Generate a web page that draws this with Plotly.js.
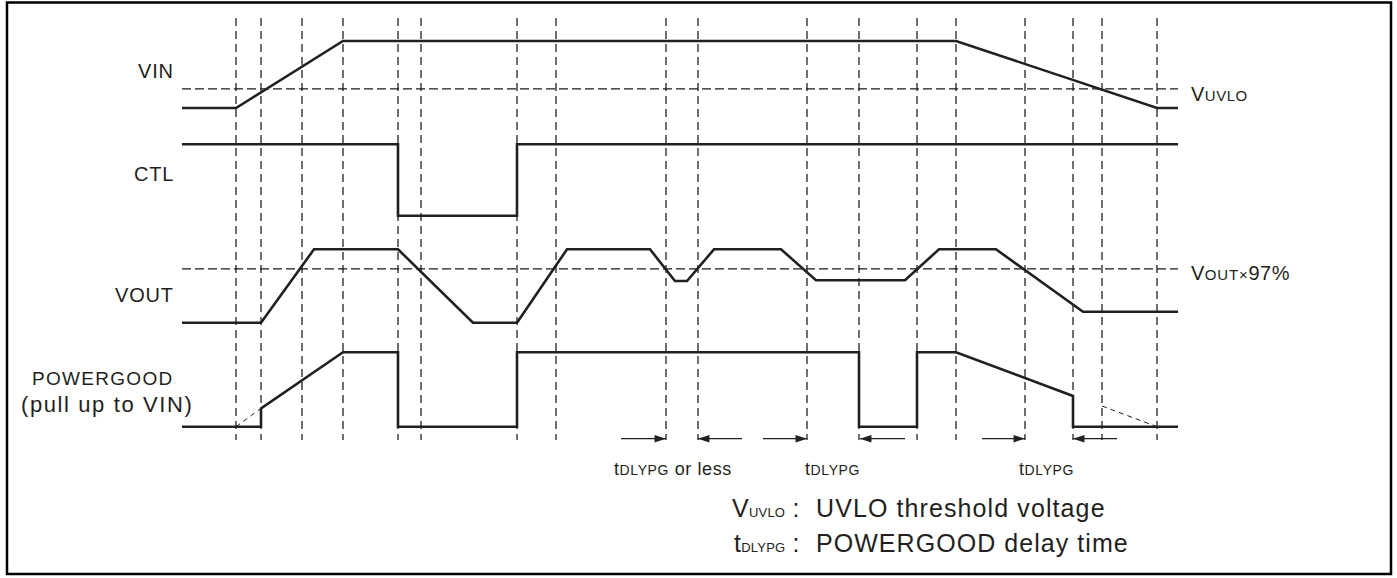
<!DOCTYPE html>
<html>
<head>
<meta charset="utf-8">
<script src="https://cdn.plot.ly/plotly-3.0.1.min.js"></script>
<style>html,body{margin:0;padding:0;background:#fff}#chart{width:1397px;height:578px}</style>
</head>
<body>
<div id="chart"></div>
<script>
// ---------- data ----------
// time axis (event markers = dashed vertical lines)
const gridT = [236, 261, 302, 343, 398, 421, 517, 556, 666, 698, 807, 859, 917, 956, 1025, 1073, 1102, 1157];
const traceStart = 182, traceEnd = 1178;

// signal levels: 0 = low, 1 = high (per signal)
const vinT  = [182, 236, 343, 956, 1157, 1178];
const vinV  = [0, 0, 1, 1, 0, 0];
const ctlT  = [182, 398, 398, 517, 517, 1178];
const ctlV  = [1, 1, 0, 0, 1, 1];
const voutT = [182, 261, 314, 398, 473, 517, 567, 650, 675, 687, 714, 781, 816, 905, 939, 996, 1083, 1178];
const voutV = [0, 0, 1, 1, 0, 0, 1, 1, 0.568, 0.568, 1, 1, 0.578, 0.578, 1, 1, 0.15, 0.15];
const pgT   = [182, 261, 261, 343, 398, 398, 517, 517, 859, 859, 917, 917, 956, 1073, 1073, 1178];
const pgV   = [0, 0, 0.247, 1, 1, 0, 0, 1, 1, 0, 0, 1, 1, 0.413, 0, 0];
const pgExtT = [236, 261, null, 1102, 1157];
const pgExtV = [0, 0.247, null, 0.278, 0];
const uvloLevel = 0.284;    // VIN scale
const vout97Level = 0.732;  // VOUT scale

// delay arrows (start -> tip) on the time axis
const arrowFrom = [621, 742, 763, 905, 982, 1117];
const arrowTo   = [666, 698, 807, 860, 1025, 1073];

// text
const signalNames = ['VIN', 'CTL', 'VOUT', 'POWERGOOD'];
const pullUpText = '(pull up to VIN)';
const delayLabels = [['t', 'DLYPG', ' or less'], ['t', 'DLYPG', ''], ['t', 'DLYPG', '']];
const legendKeys = [['V', 'UVLO'], ['t', 'DLYPG']];
const legendDescs = ['UVLO threshold voltage', 'POWERGOOD delay time'];

// ---------- layout constants (pixels) ----------
const W = 1397, H = 578;
const FONT = 'Liberation Sans, Arial, Helvetica, sans-serif';
const INK = '#231f20';
const lanes = { vin: [108, 41], ctl: [215.7, 144.3], vout: [322.7, 249.3], pg: [426.7, 352.3] };
function laneRange(l) { const yL = l[0], yH = l[1]; return [(yL - H) / (yL - yH), yL / (yL - yH)]; }

const gridTop = 18, gridBottom = 440, arrowY = 438.7;

// ---------- traces ----------
const gx = [], gy = [];
gridT.forEach(t => { gx.push(t, t, null); gy.push(gridTop, gridBottom, null); });

const sigLine = { color: INK, width: 2.6 };
const dashLine = { color: '#1a1a1a', width: 1.25, dash: '8px,5px' };
const thrLine = { color: '#1a1a1a', width: 1.25, dash: '9px,4px' };

const ax = [], ay = [];
arrowFrom.forEach((f, i) => { ax.push(f, arrowTo[i], null); ay.push(arrowY, arrowY, null); });

const traces = [
  { x: gx, y: gy, mode: 'lines', line: dashLine, yaxis: 'y', hoverinfo: 'skip' },
  { x: [traceStart, traceEnd], y: [uvloLevel, uvloLevel], mode: 'lines', line: thrLine, yaxis: 'y2' },
  { x: [traceStart, traceEnd], y: [vout97Level, vout97Level], mode: 'lines', line: thrLine, yaxis: 'y4' },
  { x: vinT, y: vinV, mode: 'lines', line: sigLine, yaxis: 'y2' },
  { x: ctlT, y: ctlV, mode: 'lines', line: sigLine, yaxis: 'y3' },
  { x: voutT, y: voutV, mode: 'lines', line: sigLine, yaxis: 'y4' },
  { x: pgT, y: pgV, mode: 'lines', line: sigLine, yaxis: 'y5' },
  { x: pgExtT, y: pgExtV, mode: 'lines', line: { color: INK, width: 1, dash: '5px,4px' }, yaxis: 'y5' },
  { x: ax, y: ay, mode: 'lines', line: { color: INK, width: 1.2 }, yaxis: 'y' },
  { x: arrowTo, y: arrowTo.map(() => arrowY), mode: 'markers', yaxis: 'y',
    marker: { symbol: 'arrow', size: 12, color: INK, line: { width: 0 },
              angle: arrowTo.map((t, i) => t > arrowFrom[i] ? 90 : -90) } }
];

// ---------- annotations ----------
function sp(txt, size, ls) { return '<span style="font-size:' + size + 'px;letter-spacing:' + ls + 'px">' + txt + '</span>'; }
function ann(x, y, text, anchor, size) {
  return { x: x, y: y, xref: 'x', yref: 'y', text: text, showarrow: false, xanchor: anchor, yanchor: 'middle',
           borderpad: 0, font: { family: FONT, size: size, color: INK } };
}
const annotations = [
  ann(175, 70.5, sp(signalNames[0], 20, 0.8), 'right', 20),
  ann(175, 174, sp(signalNames[1], 20, 0.8), 'right', 20),
  ann(175, 294.5, sp(signalNames[2], 20, 0.8), 'right', 20),
  ann(103, 378.5, sp(signalNames[3], 19, 1.3), 'center', 19),
  ann(106.5, 404, sp(pullUpText, 22, 1.6), 'center', 22),
  ann(1190, 93.5, sp('V', 20, 0.5) + sp('UVLO', 15, 0.5), 'left', 20),
  ann(1190, 272.5, sp('V', 20, 0.5) + sp('OUT×', 15, 0.8) + sp('97%', 20, 0.5), 'left', 20),
  ann(613, 468.5, sp(delayLabels[0][0], 18, 0.6) + sp(delayLabels[0][1], 14, 0.6) + sp(delayLabels[0][2], 18, 0.6), 'left', 18),
  ann(804, 468.5, sp(delayLabels[1][0], 18, 0.6) + sp(delayLabels[1][1], 14, 0.6), 'left', 18),
  ann(1018, 468.5, sp(delayLabels[2][0], 18, 0.6) + sp(delayLabels[2][1], 14, 0.6), 'left', 18),
  ann(801, 508, sp(legendKeys[0][0], 25, 0.3) + sp(legendKeys[0][1], 13, 0.2) + sp(' :', 25, 0.3), 'right', 25),
  ann(815, 508, sp(legendDescs[0], 25, 1.1), 'left', 25),
  ann(801, 542.5, sp(legendKeys[1][0], 25, 0.3) + sp(legendKeys[1][1], 13, 0.2) + sp(' :', 25, 0.3), 'right', 25),
  ann(815, 542.5, sp(legendDescs[1], 25, 1.05), 'left', 25)
];

const hidden = { visible: false, fixedrange: true };
const layout = {
  width: W, height: H, margin: { l: 0, r: 0, t: 0, b: 0, pad: 0 },
  paper_bgcolor: '#ffffff', plot_bgcolor: '#ffffff', showlegend: false,
  xaxis: Object.assign({ range: [0, W] }, hidden),
  yaxis: Object.assign({ range: [H, 0] }, hidden),
  yaxis2: Object.assign({ range: laneRange(lanes.vin), overlaying: 'y', anchor: 'x' }, hidden),
  yaxis3: Object.assign({ range: laneRange(lanes.ctl), overlaying: 'y', anchor: 'x' }, hidden),
  yaxis4: Object.assign({ range: laneRange(lanes.vout), overlaying: 'y', anchor: 'x' }, hidden),
  yaxis5: Object.assign({ range: laneRange(lanes.pg), overlaying: 'y', anchor: 'x' }, hidden),
  shapes: [{ type: 'rect', xref: 'x', yref: 'y', x0: 7, x1: 1391, y0: 2.5, y1: 574, line: { color: '#000', width: 2.5 } }],
  annotations: annotations
};

Plotly.newPlot('chart', traces, layout, { staticPlot: true, displayModeBar: false });
</script>
</body>
</html>
